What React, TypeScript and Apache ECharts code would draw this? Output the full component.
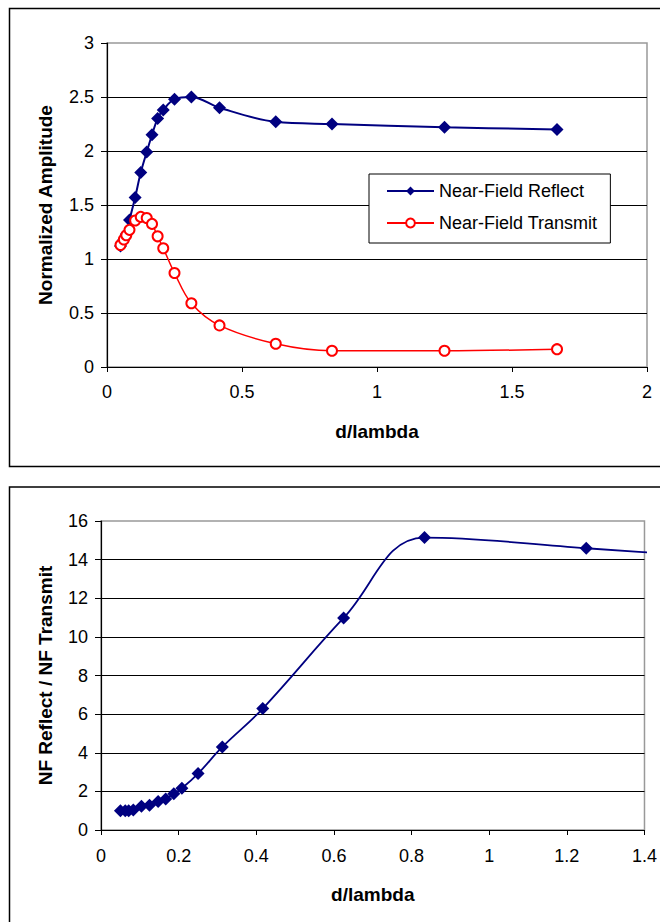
import React, { useEffect, useRef } from "react";
import * as echarts from "echarts";

// d/lambda sample positions (shared by both charts)
const dOverLambda = [0.05, 0.0625, 0.0714, 0.0833, 0.1042, 0.125, 0.1471, 0.1667, 0.1875, 0.2083, 0.25, 0.3125, 0.4167, 0.625, 0.8333, 1.25, 1.6667];

// Top chart: normalized amplitude
const nearFieldReflect = [1.12, 1.18, 1.23, 1.36, 1.57, 1.8, 1.99, 2.15, 2.3, 2.38, 2.48, 2.5, 2.4, 2.27, 2.25, 2.22, 2.2];
const nearFieldTransmit = [1.13, 1.18, 1.22, 1.27, 1.356, 1.39, 1.38, 1.325, 1.21, 1.1, 0.87, 0.59, 0.385, 0.215, 0.15, 0.15, 0.165];

// Bottom chart: ratio reflect / transmit
const reflectOverTransmit = [1.0, 1.0, 1.0, 1.03, 1.23, 1.28, 1.47, 1.61, 1.88, 2.16, 2.92, 4.3, 6.29, 10.98, 15.14, 14.59, 14.0];

const topXTicks = { min: 0, max: 2, interval: 0.5 };
const topYTicks = { min: 0, max: 3, interval: 0.5 };
const botXTicks = { min: 0, max: 1.4, interval: 0.2 };
const botYTicks = { min: 0, max: 16, interval: 2 };

const FONT = "'Liberation Sans', Arial, sans-serif";
const NAVY = "#000080";
const RED = "#ff0000";

const zip = (xs: number[], ys: number[]) => xs.map((x, i) => [x, ys[i]]);

export default function App() {
  const ref = useRef<HTMLDivElement>(null);
  useEffect(() => {
    if (!ref.current) return;
    const chart = echarts.init(ref.current, null, { renderer: "svg" });

    const xAxisBase = (gridIndex: number, t: any, margin: number, nameGap: number) => ({
      type: "value",
      gridIndex,
      min: t.min,
      max: t.max,
      interval: t.interval,
      axisLine: { show: true, onZero: false, lineStyle: { color: "#000", width: 1.2 } },
      axisTick: { show: true, inside: false, length: 5, lineStyle: { color: "#000", width: 1 } },
      axisLabel: { color: "#000", fontSize: 18, fontFamily: FONT, margin },
      splitLine: { show: false },
      name: "d/lambda",
      nameLocation: "middle",
      nameGap,
      nameTextStyle: { color: "#000", fontSize: 19, fontWeight: "bold", fontFamily: FONT },
    });
    const yAxisBase = (gridIndex: number, t: any, name: string, nameGap: number) => ({
      type: "value",
      gridIndex,
      min: t.min,
      max: t.max,
      interval: t.interval,
      axisLine: { show: true, onZero: false, lineStyle: { color: "#000", width: 1.2 } },
      axisTick: { show: true, inside: false, length: 6, lineStyle: { color: "#000", width: 1 } },
      axisLabel: { color: "#000", fontSize: 18, fontFamily: FONT, margin: 13 },
      splitLine: { show: true, showMaxLine: false, lineStyle: { color: "#000", width: 1 } },
      name,
      nameLocation: "middle",
      nameRotate: 90,
      nameGap,
      nameTextStyle: { color: "#000", fontSize: 19, fontWeight: "bold", fontFamily: FONT },
    });

    const option: any = {
      animation: false,
      textStyle: { fontFamily: FONT },
      graphic: [
        {
          type: "rect",
          z: -10,
          shape: { x: 9.5, y: 8.5, width: 700, height: 458 },
          style: { fill: "none", stroke: "#000", lineWidth: 1.5 },
        },
        {
          type: "rect",
          z: -10,
          shape: { x: 9.5, y: 487, width: 700, height: 500 },
          style: { fill: "none", stroke: "#000", lineWidth: 1.5 },
        },
      ],
      grid: [
        { left: 107, top: 43, width: 540, height: 324, show: true, borderColor: "#999", borderWidth: 1.5, containLabel: false },
        { left: 101, top: 521, width: 546, height: 309, show: true, borderColor: "#999", borderWidth: 1.5, containLabel: false },
      ],
      xAxis: [xAxisBase(0, topXTicks, 16, 55), xAxisBase(1, botXTicks, 17, 55)],
      yAxis: [
        yAxisBase(0, topYTicks, "Normalized Amplitude", 52),
        yAxisBase(1, botYTicks, "NF Reflect / NF Transmit", 46),
      ],
      legend: {
        data: ["Near-Field Reflect", "Near-Field Transmit"],
        orient: "vertical",
        left: 369,
        top: 174,
        padding: [8, 13, 11, 17],
        itemWidth: 47,
        itemHeight: 11,
        itemGap: 14,
        backgroundColor: "#fff",
        borderColor: "#000",
        borderWidth: 1,
        textStyle: { color: "#000", fontSize: 18, fontFamily: FONT },
      },
      series: [
        {
          name: "Near-Field Reflect",
          type: "line",
          xAxisIndex: 0,
          yAxisIndex: 0,
          data: zip(dOverLambda, nearFieldReflect),
          smooth: 0.35,
          symbol: "diamond",
          symbolSize: 13,
          lineStyle: { color: NAVY, width: 2 },
          itemStyle: { color: NAVY },
        },
        {
          name: "Near-Field Transmit",
          type: "line",
          xAxisIndex: 0,
          yAxisIndex: 0,
          data: zip(dOverLambda, nearFieldTransmit),
          smooth: 0.35,
          symbol: "emptyCircle",
          symbolSize: 10,
          lineStyle: { color: RED, width: 1.5 },
          itemStyle: { color: RED, borderColor: RED, borderWidth: 1.5 },
        },
        {
          name: "NF Reflect / NF Transmit",
          type: "line",
          xAxisIndex: 1,
          yAxisIndex: 1,
          data: zip(dOverLambda, reflectOverTransmit),
          smooth: 0.4,
          clip: true,
          symbol: "diamond",
          symbolSize: 13,
          lineStyle: { color: NAVY, width: 1.8 },
          itemStyle: { color: NAVY },
        },
      ],
    };
    chart.setOption(option);
    return () => chart.dispose();
  }, []);

  return (
    <div
      ref={ref}
      style={{ position: "absolute", left: 0, top: 0, width: 660, height: 922, background: "#fff" }}
    />
  );
}
